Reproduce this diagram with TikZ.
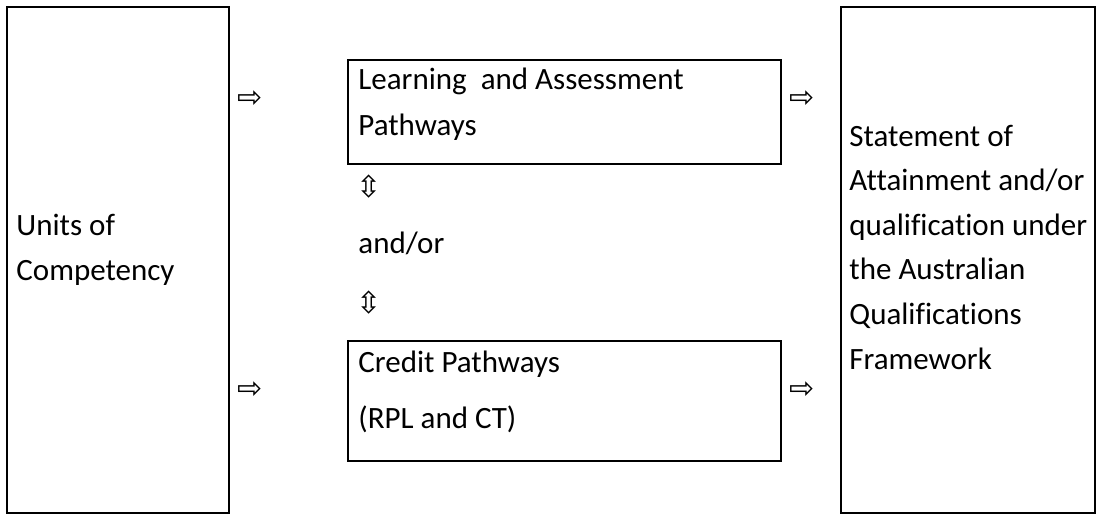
\documentclass[tikz,border=0pt]{standalone}
\usepackage{fontspec}
\setmainfont{Carlito}[Ligatures=NoCommon]
\newfontfamily\arrowfont{DejaVu Sans}
\usetikzlibrary{positioning}
\tikzset{
  frame/.style={draw=black, line width=1.1pt, inner sep=0pt},
  boxtext/.style={align=left, inner sep=0pt, anchor=west,
    font=\fontsize{15.5}{22.3}\selectfont},
  glyph/.style={inner sep=0pt, font=\arrowfont\fontsize{15}{17}\selectfont}
}

\begin{document}
\begin{tikzpicture}[x=0.5pt, y=-0.5pt]
  \useasboundingbox (0,0) rectangle (1102,514);

  % ---- outer boxes ----
  \node[frame, minimum width=111pt, minimum height=253pt] (units) at (118,260) {};
  \node[frame, minimum width=127pt, minimum height=253pt] (soa) at (968,260) {};

  % ---- pathway boxes ----
  \node[frame, minimum width=216.5pt, minimum height=52pt] (lap) at (564.5,112) {};
  \node[frame, minimum width=216.5pt, minimum height=60pt] (cp) at (564.5,401) {};

  % ---- texts ----
  \node[boxtext] (unitstxt) at (16,250) {Units of\\Competency};
  \node[boxtext] (laptxt) at (358,104) {Learning~ and Assessment\\[0.6pt]Pathways};
  \node[boxtext] (cptxt) at (358,392) {Credit Pathways\\[6pt](RPL and CT)};
  \node[boxtext] (andor) at (358,243) {and/or};
  \node[boxtext] (soatxt) at (849,247)
    {Statement of\\Attainment and/or\\qualification under\\the Australian\\Qualifications\\Framework};

  % ---- arrow glyphs ----
  \node[glyph] (inlap) at (250,99) {⇨};
  \node[glyph] (incp) at (250,390) {⇨};
  \node[glyph] (outlap) at (802,99) {⇨};
  \node[glyph] (outcp) at (802,390) {⇨};
  \node[glyph] (updn1) at (369,187) {⇳};
  \node[glyph] (updn2) at (369,303) {⇳};

\end{tikzpicture}
\end{document}
